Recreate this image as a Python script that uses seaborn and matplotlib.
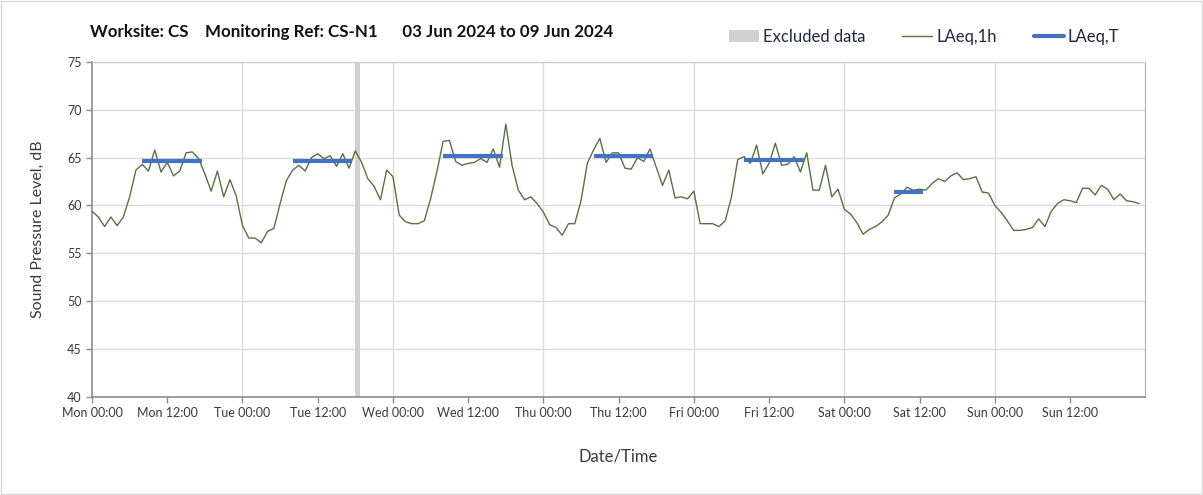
# Imports

import numpy as np
import pandas as pd
import matplotlib

matplotlib.use("Agg")
import matplotlib.pyplot as plt
from matplotlib.lines import Line2D
from matplotlib.patches import Patch, Rectangle
import seaborn as sns

# Data

# hourly LAeq,1h, hours since Mon 03 Jun 2024 00:00
HOURS = np.arange(168)
LAEQ_1H = [
    59.4, 58.8, 57.8, 58.8, 57.9, 58.8, 60.9, 63.7, 64.3, 63.6, 65.8, 63.5,
    64.5, 63.1, 63.6, 65.5, 65.6, 64.9, 63.3, 61.5, 63.6, 60.9, 62.7, 61.0,
    57.9, 56.6, 56.6, 56.1, 57.3, 57.6, 60.2, 62.6, 63.7, 64.2, 63.6, 65.0,
    65.4, 64.9, 65.2, 64.1, 65.4, 63.9, 65.7, 64.5, 62.8, 62.0, 60.6, 63.7,
    63.0, 59.0, 58.3, 58.1, 58.1, 58.4, 60.7, 63.5, 66.7, 66.8, 64.6, 64.2,
    64.4, 64.5, 64.9, 64.5, 65.9, 64.0, 68.5, 64.2, 61.6, 60.6, 60.9, 60.2,
    59.3, 58.0, 57.7, 56.9, 58.1, 58.1, 60.5, 64.4, 65.8, 67.0, 64.5, 65.5,
    65.5, 63.9, 63.8, 65.0, 64.6, 65.9, 64.0, 62.1, 63.7, 60.8, 60.9, 60.7,
    61.5, 58.1, 58.1, 58.1, 57.8, 58.4, 60.9, 64.8, 65.1, 64.4, 66.3, 63.3,
    64.4, 66.5, 64.2, 64.3, 65.1, 63.5, 65.5, 61.6, 61.6, 64.2, 60.9, 61.7,
    59.6, 59.1, 58.2, 57.0, 57.5, 57.8, 58.3, 59.0, 60.8, 61.2, 61.9, 61.6,
    61.7, 61.6, 62.3, 62.8, 62.5, 63.1, 63.4, 62.7, 62.8, 63.0, 61.4, 61.3,
    60.0, 59.3, 58.4, 57.4, 57.4, 57.5, 57.7, 58.6, 57.8, 59.4, 60.2, 60.6,
    60.5, 60.3, 61.8, 61.8, 61.1, 62.1, 61.7, 60.6, 61.2, 60.5, 60.4, 60.2,
]

# LAeq,T periods (start hour, end hour, level)
PERIOD_START = [8, 32, 56, 80, 104, 128]
PERIOD_END = [17.5, 41.5, 65.5, 89.5, 113.5, 132.5]
PERIOD_LEVEL = [64.6, 64.6, 65.2, 65.2, 64.8, 61.4]

EXCLUDED = (41.9, 42.8)

DAYS = ["Mon", "Tue", "Wed", "Thu", "Fri", "Sat", "Sun"]
TICK_LABELS = [f"{d} {t}" for d in DAYS for t in ("00:00", "12:00")]

TITLE = "Worksite: CS    Monitoring Ref: CS-N1      03 Jun 2024 to 09 Jun 2024"

# Style

GREEN = "#56733f"
BLUE = "#4472C4"
GRID = "#dcdcdc"
AXIS = "#8c8c8c"
TEXT = "#3a3a3a"

sns.set_style("white")
plt.rcParams["font.family"] = ["Lato", "DejaVu Sans"]

# Plot

df = pd.DataFrame({"hour": HOURS, "LAeq,1h": LAEQ_1H})

fig = plt.figure(figsize=(12.03, 4.95), dpi=100)
ax = fig.add_axes([0.0765, 0.198, 0.8755, 0.677])

ax.axvspan(*EXCLUDED, color="#d0d0d0", lw=0, zorder=1)
sns.lineplot(data=df, x="hour", y="LAeq,1h", ax=ax, color=GREEN, lw=1.0, zorder=3)
for s, e, lvl in zip(PERIOD_START, PERIOD_END, PERIOD_LEVEL):
    ax.plot([s, e], [lvl, lvl], color=BLUE, lw=3, solid_capstyle="butt", zorder=4)

ax.set_xlim(0, 168)
ax.set_ylim(40, 75)
ax.set_xticks(np.arange(0, 168, 12))
ax.set_xticklabels(TICK_LABELS)
ax.set_yticks(np.arange(40, 76, 5))

for h in range(24, 168, 24):
    ax.axvline(h, color=GRID, lw=1, zorder=0)
for v in range(45, 76, 5):
    ax.axhline(v, color=GRID, lw=1, zorder=0)

for side in ["left", "bottom"]:
    ax.spines[side].set_color(AXIS)
    ax.spines[side].set_linewidth(1.2)
ax.spines["right"].set_color("#b0b0b0")
ax.spines["top"].set_color("#c8c8c8")

ax.tick_params(axis="both", which="major", length=4, width=1, color=AXIS,
               labelsize=9, labelcolor=TEXT, direction="out",
               bottom=True, left=True)
ax.set_xlabel("Date/Time", fontsize=12, color=TEXT, labelpad=21)
ax.set_ylabel("Sound Pressure Level, dB", fontsize=11.5, color=TEXT, labelpad=16)

fig.text(0.0745, 0.935, TITLE, fontsize=12.2, fontweight="bold", color="#111111",
         va="center", ha="left")

handles = [
    Patch(facecolor="#d0d0d0", edgecolor="none", label="Excluded data"),
    Line2D([], [], color=GREEN, lw=1.0, label="LAeq,1h"),
    Line2D([], [], color=BLUE, lw=3, label="LAeq,T"),
]
fig.legend(handles=handles, loc="center right", bbox_to_anchor=(0.943, 0.925),
           ncol=3, frameon=False, fontsize=12, handlelength=1.8,
           handletextpad=0.25, columnspacing=2.2, labelcolor="#1f2840")

fig.patches.append(Rectangle((0.001, 0.002), 0.998, 0.996, transform=fig.transFigure,
                             fill=False, edgecolor="#d9d9d9", lw=1))

fig.savefig("out.png", dpi=100)
